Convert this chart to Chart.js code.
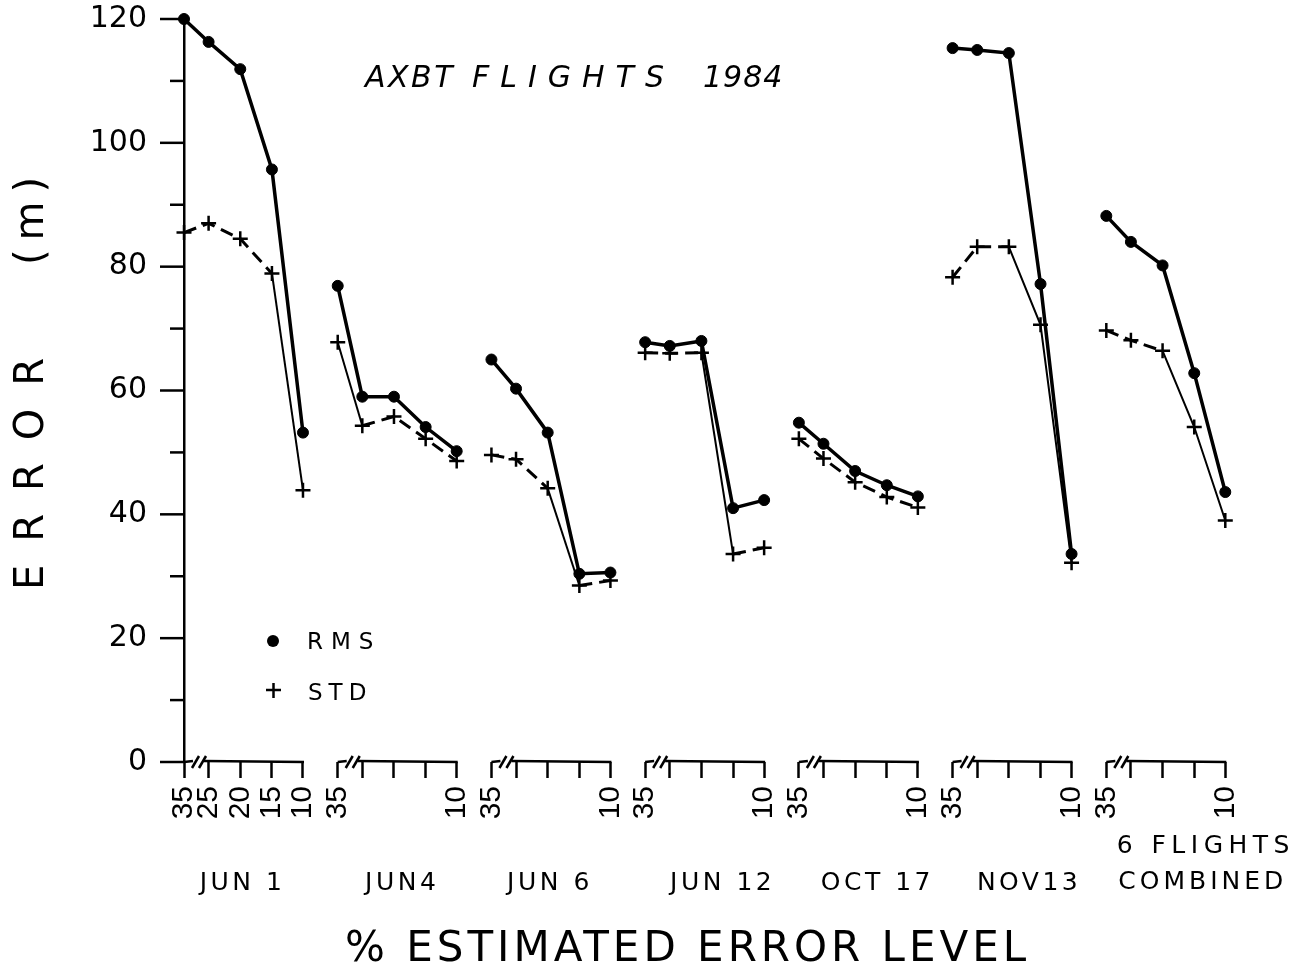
<!DOCTYPE html>
<html>
<head>
<meta charset="utf-8">
<title>AXBT Flights 1984</title>
<script src="https://cdn.jsdelivr.net/npm/chart.js@4.4.1/dist/chart.umd.min.js"></script>
<style>
  html, body { margin: 0; padding: 0; background: #fff; }
  #wrap { width: 1312px; height: 972px; }
</style>
</head>
<body>
<div id="wrap"><canvas id="errorChart" width="1312" height="972"></canvas></div>
<script>
// Estimated error levels (%) along each flight's axis
const levels = ['35', '25', '20', '15', '10'];
const flights = ['JUN 1', 'JUN4', 'JUN 6', 'JUN 12', 'OCT 17', 'NOV13', '6 FLIGHTS|COMBINED'];
const yTicks = [0, 20, 40, 60, 80, 100, 120];

// RMS error (m), one value per level
const rmsJun1  = [120, 116.3, 111.9, 95.7, 53.2];
const rmsJun4  = [76.9, 59.0, 59.0, 54.1, 50.2];
const rmsJun6  = [65.0, 60.3, 53.2, 30.4, 30.6];
const rmsJun12 = [67.8, 67.2, 68.0, 41.0, 42.3];
const rmsOct17 = [54.8, 51.4, 47.0, 44.7, 42.9];
const rmsNov13 = [115.3, 115.0, 114.5, 77.2, 33.6];
const rmsAll   = [88.2, 84.0, 80.2, 62.8, 43.6];

// Standard deviation (m), one value per level
const stdJun1  = [85.5, 87.0, 84.5, 78.9, 43.9];
const stdJun4  = [67.8, 54.3, 55.8, 52.2, 48.6];
const stdJun6  = [49.6, 48.9, 44.2, 28.5, 29.3];
const stdJun12 = [66.1, 66.0, 66.1, 33.6, 34.6];
const stdOct17 = [52.2, 49.0, 45.2, 42.8, 41.1];
const stdNov13 = [78.3, 83.2, 83.2, 70.6, 32.2];
const stdAll   = [69.7, 68.1, 66.4, 54.1, 39.0];

const rmsByFlight = [rmsJun1, rmsJun4, rmsJun6, rmsJun12, rmsOct17, rmsNov13, rmsAll];
const stdByFlight = [stdJun1, stdJun4, stdJun6, stdJun12, stdOct17, stdNov13, stdAll];

// Each flight gets its own short broken axis; 35 sits before the break
const groupWidth = 5;
const levelOffset = [0, 0.8, 1.83, 2.86, 3.87];
const labelShift = [-3, 3, -3, 16, 17, 15, 35];
const SANS = '"DejaVu Sans", sans-serif';
const NARROW = '"Liberation Sans", Arial, sans-serif';

const tickValues = [];
flights.forEach((f, g) => levelOffset.forEach(o => tickValues.push(g * groupWidth + o)));

function tickLabel(i) {
    const g = Math.floor(i / levels.length);
    const k = i % levels.length;
    return (g === 0 || k === 0 || k === levels.length - 1) ? levels[k] : '';
}

function seriesPoints(byFlight) {
    const pts = [];
    byFlight.forEach((vals, g) => {
        vals.forEach((v, i) => pts.push({ x: g * groupWidth + levelOffset[i], y: v }));
        pts.push({ x: g * groupWidth + 4.4, y: null }); // gap between flights
    });
    return pts;
}

// Small changes are dashed, steep drops are a thin solid line
const steep = ctx => Math.abs(ctx.p1.parsed.y - ctx.p0.parsed.y) >= 8;

/** Broken x axes, minor y ticks and all the lettering. */
const decorations = {
    id: 'decorations',
    afterDraw(chart) {
        const { ctx, scales: { x, y } } = chart;
        const base = y.getPixelForValue(0);
        const left = x.getPixelForValue(0);

        const line = (x1, y1, x2, y2) => {
            ctx.beginPath();
            ctx.moveTo(x1, y1);
            ctx.lineTo(x2, y2);
            ctx.stroke();
        };
        const text = (str, px, py, spacing) => {
            ctx.letterSpacing = spacing + 'px';
            ctx.fillText(str, px, py);
        };

        ctx.save();
        ctx.strokeStyle = '#000';
        ctx.fillStyle = '#000';
        ctx.lineWidth = 2.5;

        // y ticks: long at labelled values, short in between
        for (let v = 0; v <= 120; v += 10) {
            const py = y.getPixelForValue(v);
            line(left - (yTicks.includes(v) ? 24 : 14), py, left, py);
        }

        // axis segment per flight with a // break after 35
        flights.forEach((f, g) => {
            const p35 = x.getPixelForValue(g * groupWidth + levelOffset[0]);
            const p10 = x.getPixelForValue(g * groupWidth + levelOffset[4]);
            line(p35, base, p35 + 9, base - 1);
            line(p35 + 8, base + 6, p35 + 15, base - 6);
            line(p35 + 15, base + 6, p35 + 22, base - 6);
            line(p35 + 20, base - 1, p10 + 1, base);
        });

        // flight names under each axis
        ctx.font = `25px ${SANS}`;
        ctx.textAlign = 'center';
        ctx.textBaseline = 'alphabetic';
        flights.forEach((f, g) => {
            const cx = x.getPixelForValue(g * groupWidth + levelOffset[4] / 2) + labelShift[g];
            const parts = f.split('|');
            if (parts.length === 2) {
                text(parts[0], cx + 5, 853, 5.5);
                text(parts[1], cx + 2, 889, 4);
            } else {
                text(f, cx + 2, 890, 3.5);
            }
        });

        // x axis title
        ctx.textAlign = 'left';
        ctx.font = `42px ${SANS}`;
        text('% ESTIMATED ERROR LEVEL', 345, 961, 4);

        // chart title inside the plot
        ctx.font = `oblique 30px ${SANS}`;
        text('AXBT', 365, 87, 2.5);
        text('FLIGHTS', 472, 87, 11);
        text('1984', 703, 87, 1);

        // legend
        ctx.font = `23px ${SANS}`;
        text('RMS', 307, 649, 8);
        text('STD', 308, 700, 6);
        ctx.beginPath();
        ctx.arc(273, 641, 6, 0, Math.PI * 2);
        ctx.fill();
        ctx.lineWidth = 2.5;
        line(266, 690, 281, 690);
        line(273.5, 683, 273.5, 698);

        // y axis title, rotated
        ctx.font = `40px ${SANS}`;
        ctx.textBaseline = 'middle';
        ctx.save();
        ctx.translate(33, 590);
        ctx.rotate(-Math.PI / 2);
        text('ERROR', 0, 0, 23);
        ctx.restore();
        ctx.save();
        ctx.translate(33, 265);
        ctx.rotate(-Math.PI / 2);
        text('(m)', 0, 0, 9);
        ctx.restore();

        ctx.restore();
    }
};

const ctx = document.getElementById('errorChart').getContext('2d');

new Chart(ctx, {
    type: 'line',
    data: {
        datasets: [
            {
                label: 'RMS',
                data: seriesPoints(rmsByFlight),
                borderColor: '#000',
                borderWidth: 3.5,
                pointStyle: 'circle',
                pointRadius: 5.5,
                pointBackgroundColor: '#000',
                pointBorderColor: '#000',
                pointBorderWidth: 1,
                tension: 0,
                spanGaps: false,
                clip: false
            },
            {
                label: 'STD',
                data: seriesPoints(stdByFlight),
                borderColor: '#000',
                borderWidth: 2,
                pointStyle: 'cross',
                pointRadius: 7.5,
                pointBorderColor: '#000',
                pointBorderWidth: 2.5,
                tension: 0,
                spanGaps: false,
                clip: false,
                segment: {
                    borderDash: c => steep(c) ? [] : [13, 7],
                    borderWidth: c => steep(c) ? 2 : 3
                }
            }
        ]
    },
    options: {
        responsive: false,
        animation: false,
        devicePixelRatio: 1,
        layout: { padding: { top: 19, right: 12, bottom: 0, left: 0 } },
        plugins: {
            legend: { display: false },
            tooltip: { enabled: false },
            title: { display: false }
        },
        scales: {
            x: {
                type: 'linear',
                min: 0,
                max: 36.3,
                afterFit(scale) {
                    scale.height = 210;
                    scale.paddingLeft = 0;
                    scale.paddingRight = 0;
                },
                afterBuildTicks(scale) { scale.ticks = tickValues.map(v => ({ value: v })); },
                grid: { display: true, drawOnChartArea: false, drawTicks: true, tickLength: 16, tickWidth: 2.5, tickColor: '#000' },
                border: { display: false },
                ticks: {
                    autoSkip: false,
                    minRotation: 90,
                    maxRotation: 90,
                    padding: 8,
                    color: '#000',
                    font: { family: NARROW, size: 30 },
                    callback: (v, i) => tickLabel(i)
                }
            },
            y: {
                min: 0,
                max: 120,
                afterFit(scale) {
                    scale.width = 184;
                    scale.paddingTop = 0;
                    scale.paddingBottom = 0;
                },
                grid: { display: false, drawTicks: false },
                border: { display: true, color: '#000', width: 2.5 },
                ticks: {
                    stepSize: 10,
                    padding: 37,
                    color: '#000',
                    font: { family: SANS, size: 30 },
                    callback: v => (yTicks.includes(v) ? String(v) : '')
                }
            }
        }
    },
    plugins: [decorations]
});
</script>
</body>
</html>
